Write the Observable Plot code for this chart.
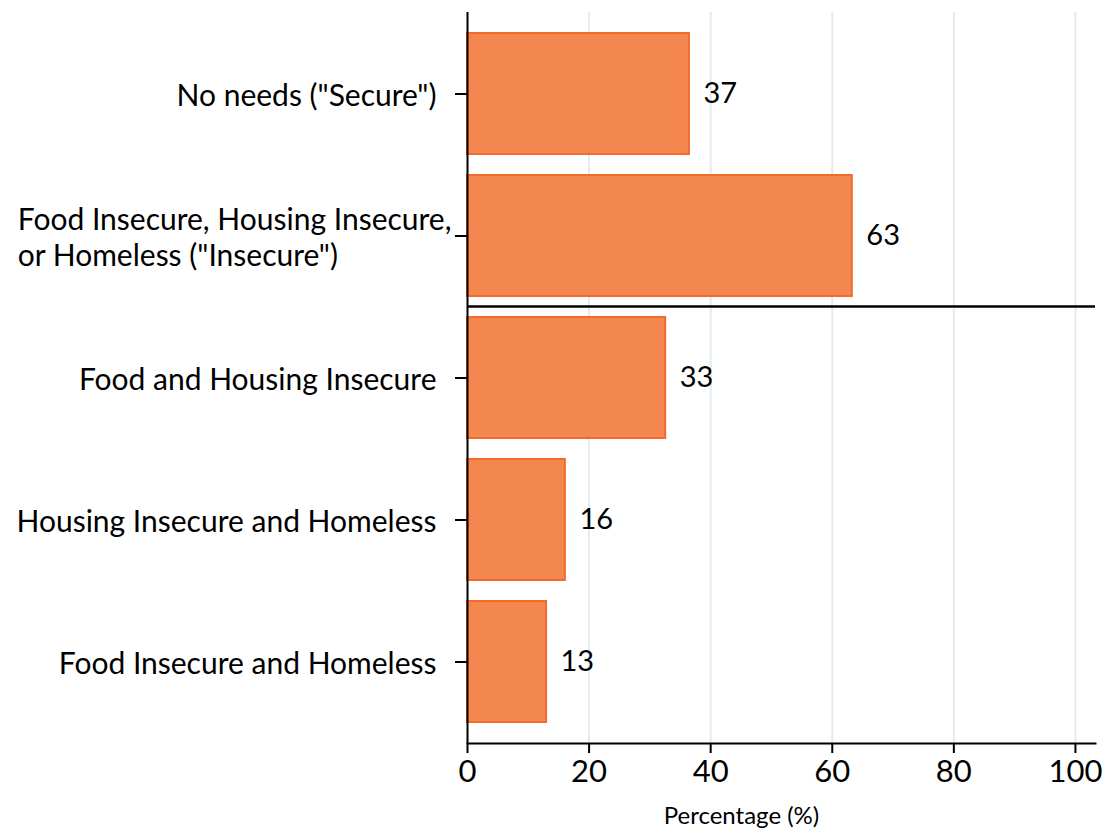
<!DOCTYPE html>
<html><head><meta charset="utf-8">
<script src="https://cdn.jsdelivr.net/npm/d3@7"></script>
<script src="https://cdn.jsdelivr.net/npm/@observablehq/plot@0.6"></script>
<style>body{margin:0;background:#fff;}</style>
</head><body><div id="chart"></div>
<script>
const categories = [
  "No needs (\"Secure\")",
  "Food Insecure, Housing Insecure,\nor Homeless (\"Insecure\")",
  "Food and Housing Insecure",
  "Housing Insecure and Homeless",
  "Food Insecure and Homeless"
];
const values = [36.5, 63.3, 32.6, 16.1, 13.0];
const valueLabels = ["37", "63", "33", "16", "13"];
const xTicks = [0, 20, 40, 60, 80, 100];
const xTitle = "Percentage (%)";

const data = categories.map((c, i) => ({category: c, value: values[i], label: valueLabels[i]}));

const FONT = "Lato, 'Open Sans', sans-serif";
const chart = Plot.plot({
  width: 1107, height: 833,
  marginLeft: 467, marginRight: 12, marginTop: 12, marginBottom: 90,
  style: {fontFamily: FONT, fontSize: "30px", color: "#000", background: "#fff"},
  x: {domain: [0, 103.3]},
  y: {domain: categories, paddingInner: 0.15, paddingOuter: 0.14},
  marks: [
    Plot.gridX(xTicks.slice(1), {stroke: "#e1ecf0", strokeOpacity: 1, strokeWidth: 2}),
    Plot.barX(data, {x: "value", y: "category", fill: "#f3874f", stroke: "#f26b2a", strokeWidth: 2}),
    Plot.text(data, {x: "value", y: "category", text: "label", textAnchor: "start", dx: 14, fontSize: 29}),
    Plot.axisX({ticks: xTicks, tickSize: 10, strokeWidth: 2, tickPadding: 6, fontSize: 31, label: null}),
    Plot.text([xTitle], {frameAnchor: "bottom", dy: 80, dx: -40, fontSize: 24}),
    Plot.axisY({tickSize: 12, strokeWidth: 2, tickPadding: 4, label: null, fontSize: 30, lineHeight: 1.2,
      tickFormat: d => d.includes("\n") ? d : d + "\u2002"}),
    Plot.ruleX([0], {strokeWidth: 2}),
    Plot.frame({anchor: "bottom", strokeWidth: 2})
  ]
});
document.getElementById("chart").appendChild(chart);

// separator line between the summary bars and the breakdown bars
const ys = chart.scale("y");
const xs = chart.scale("x");
const yb = ys.apply(categories[1]) + ys.bandwidth + (ys.step - ys.bandwidth) / 2;
d3.select(chart).append("line")
  .attr("x1", xs.range[0]).attr("x2", xs.range[1])
  .attr("y1", yb).attr("y2", yb)
  .attr("stroke", "#000").attr("stroke-width", 2.5);

// left-align the two-line label like the original
d3.select(chart).selectAll("text").each(function() {
  const tsp = this.querySelectorAll("tspan");
  if (tsp.length > 1) {
    const len = tsp[0].getComputedTextLength();
    this.setAttribute("text-anchor", "start");
    tsp.forEach(t => t.setAttribute("x", -len));
  }
});
</script>
</body></html>
